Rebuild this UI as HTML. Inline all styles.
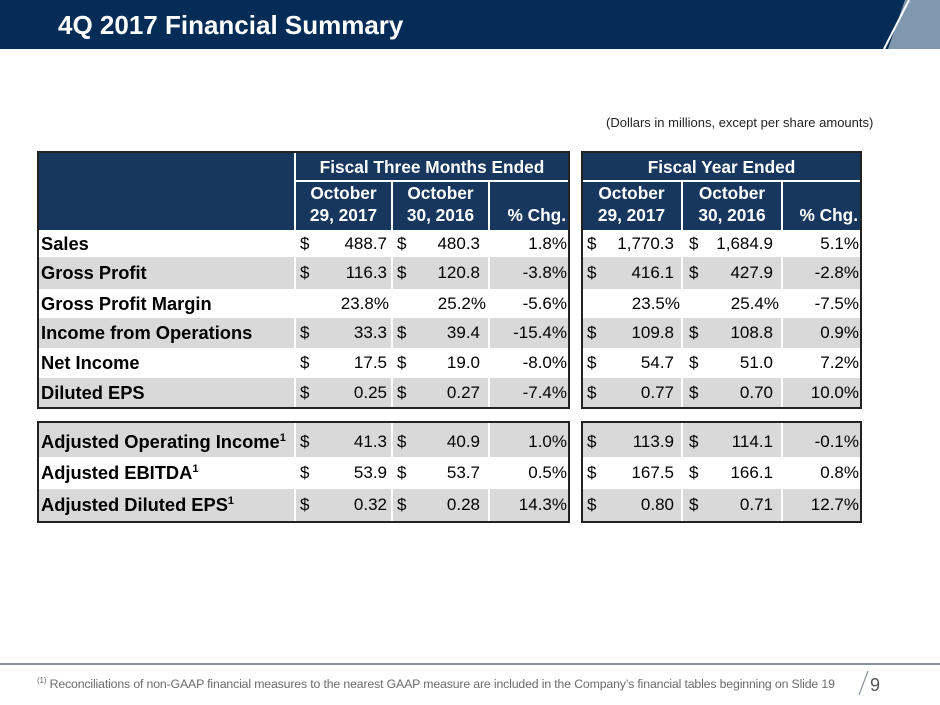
<!DOCTYPE html>
<html><head><meta charset="utf-8">
<style>
body{margin:0;width:940px;height:705px;position:relative;overflow:hidden;background:#fff;font-family:"Liberation Sans",Arial,sans-serif;}
.a{position:absolute;box-sizing:border-box;}
.t{position:absolute;white-space:nowrap;font-size:17px;color:#000;line-height:1;}
</style></head>
<body>
<div class="a" style="left:0;top:0;width:940px;height:49px;background:#042c57;"></div>
<svg class="a" style="left:0;top:0" width="940" height="50">
<polygon points="905,0 940,0 940,49 888,49" fill="#8097b0"/>
<line x1="909" y1="0" x2="884" y2="49" stroke="#fff" stroke-width="2"/>
</svg>
<div class="t" style="left:58px;top:12px;font-size:26px;font-weight:bold;color:#fff;">4Q 2017 Financial Summary</div>
<div class="t" style="left:606px;top:116px;font-size:13px;color:#222;">(Dollars in millions, except per share amounts)</div>

<div id="tbl"></div>

<div class="a" style="left:0;top:663px;width:940px;height:2px;background:#8a9099;"></div>
<div class="t" style="left:37px;top:677px;font-size:12.3px;color:#6b6b6b;letter-spacing:-0.15px;"><sup style="font-size:8px">(1)</sup> Reconciliations of non-GAAP financial measures to the nearest GAAP measure are included in the Company’s financial tables beginning on Slide 19</div>
<svg class="a" style="left:855px;top:668px" width="20" height="30"><line x1="13" y1="3" x2="4" y2="27" stroke="#8a9099" stroke-width="1.2"/></svg>
<div class="t" style="left:870px;top:676px;font-size:18px;color:#555;">9</div>

<script>
const labels=["Sales","Gross Profit","Gross Profit Margin","Income from Operations","Net Income","Diluted EPS","Adjusted Operating Income","Adjusted EBITDA","Adjusted Diluted EPS"];
const sup=[0,0,0,0,0,0,1,1,1];
const dollar=[1,1,0,1,1,1,1,1,1];
const q2017=["488.7","116.3","23.8%","33.3","17.5","0.25","41.3","53.9","0.32"];
const q2016=["480.3","120.8","25.2%","39.4","19.0","0.27","40.9","53.7","0.28"];
const qChg=["1.8%","-3.8%","-5.6%","-15.4%","-8.0%","-7.4%","1.0%","0.5%","14.3%"];
const y2017=["1,770.3","416.1","23.5%","109.8","54.7","0.77","113.9","167.5","0.80"];
const y2016=["1,684.9","427.9","25.4%","108.8","51.0","0.70","114.1","166.1","0.71"];
const yChg=["5.1%","-2.8%","-7.5%","0.9%","7.2%","10.0%","-0.1%","0.8%","12.7%"];
const root=document.getElementById('tbl');
const NAVY="#17375e",GRAY="#d9d9d9";
function box(x,y,w,h,st,name){const d=document.createElement('div');d.className='a';d.style.cssText=`left:${x}px;top:${y}px;width:${w}px;height:${h}px;`+st;


root.appendChild(d);return d;}
function txt(x,y,s,st,name,right){const d=document.createElement('div');d.className='t';d.innerHTML=s;
d.style.cssText=(right?`right:${940-x}px;`:`left:${x}px;`)+`top:${y}px;`+(st||'');


root.appendChild(d);return d;}
// header
box(38,152,531,78,`background:${NAVY};`,'header-left');
box(582,152,279,78,`background:${NAVY};`,'header-right');
const wl="background:#fff;";
box(294,152,2,78,wl,'header-divider');
box(294,180,275,2,wl,'header-divider');
box(391,180,2,50,wl,'header-divider');
box(488,180,2,50,wl,'header-divider');
box(582,180,279,2,wl,'header-divider');
box(681,180,2,50,wl,'header-divider');
box(781,180,2,50,wl,'header-divider');
const hs="color:#fff;font-weight:bold;font-size:17.3px;";
txt(296,159,"Fiscal Three Months Ended",hs+"width:272px;text-align:center;",'header-three-months');
txt(582,159,"Fiscal Year Ended",hs+"width:279px;text-align:center;",'header-fiscal-year');
function sub(x,w,d,pre){
 txt(x,185,"October",hs+`width:${w}px;text-align:center;`,pre+'-month');
 txt(x,207,d,hs+`width:${w}px;text-align:center;`,pre+'-date');
}
sub(296,95,"29, 2017",'col-q-2017');sub(393,95,"30, 2016",'col-q-2016');
txt(566,207,"% Chg.",hs,'col-q-chg',true);
sub(582,99,"29, 2017",'col-y-2017');sub(683,98,"30, 2016",'col-y-2016');
txt(858,207,"% Chg.",hs,'col-y-chg',true);
// rows
const rowsY=[230,257,289,318,348,378,423,457,489];
const rowsH=[27,32,29,30,30,29,34,32,32];
const grayRow=[0,1,0,1,0,1,1,0,1];
for(let i=0;i<labels.length;i++){
 const y=rowsY[i],h=rowsH[i];
 if(grayRow[i]){
  box(38,y,256,h,`background:${GRAY};`,'row-bg');
  box(296,y,95,h,`background:${GRAY};`,'row-bg');
  box(393,y,95,h,`background:${GRAY};`,'row-bg');
  box(490,y,79,h,`background:${GRAY};`,'row-bg');
  box(582,y,99,h,`background:${GRAY};`,'row-bg');
  box(683,y,98,h,`background:${GRAY};`,'row-bg');
  box(783,y,78,h,`background:${GRAY};`,'row-bg');
 }
 const ty=y+h/2-9+(i==6?2:0);
 txt(41,ty,labels[i]+(sup[i]?'<sup style="font-size:11px">1</sup>':''),"font-weight:bold;font-size:18.3px;",'row-label');
 if(dollar[i]){
  txt(300,ty,"$","",'dollar-sign');txt(397,ty,"$","",'dollar-sign');
  txt(587,ty,"$","",'dollar-sign');txt(689,ty,"$","",'dollar-sign');
  txt(387,ty,q2017[i],"",'value-q-2017',true);
  txt(480,ty,q2016[i],"",'value-q-2016',true);
  txt(674,ty,y2017[i],"",'value-y-2017',true);
  txt(773,ty,y2016[i],"",'value-y-2016',true);
 } else {
  txt(389,ty,q2017[i],"",'value-q-2017',true);
  txt(486,ty,q2016[i],"",'value-q-2016',true);
  txt(680,ty,y2017[i],"",'value-y-2017',true);
  txt(779,ty,y2016[i],"",'value-y-2016',true);
 }
 txt(567,ty,qChg[i],"",'value-q-chg',true);
 txt(859,ty,yChg[i],"",'value-y-chg',true);
}
// borders
const bd="border:2px solid #222;";
box(37,151,533,258,bd,'table-border-left');
box(581,151,281,258,bd,'table-border-right');
box(37,421,533,102,bd,'adjusted-border-left');
box(581,421,281,102,bd,'adjusted-border-right');
</script>
</body></html>
